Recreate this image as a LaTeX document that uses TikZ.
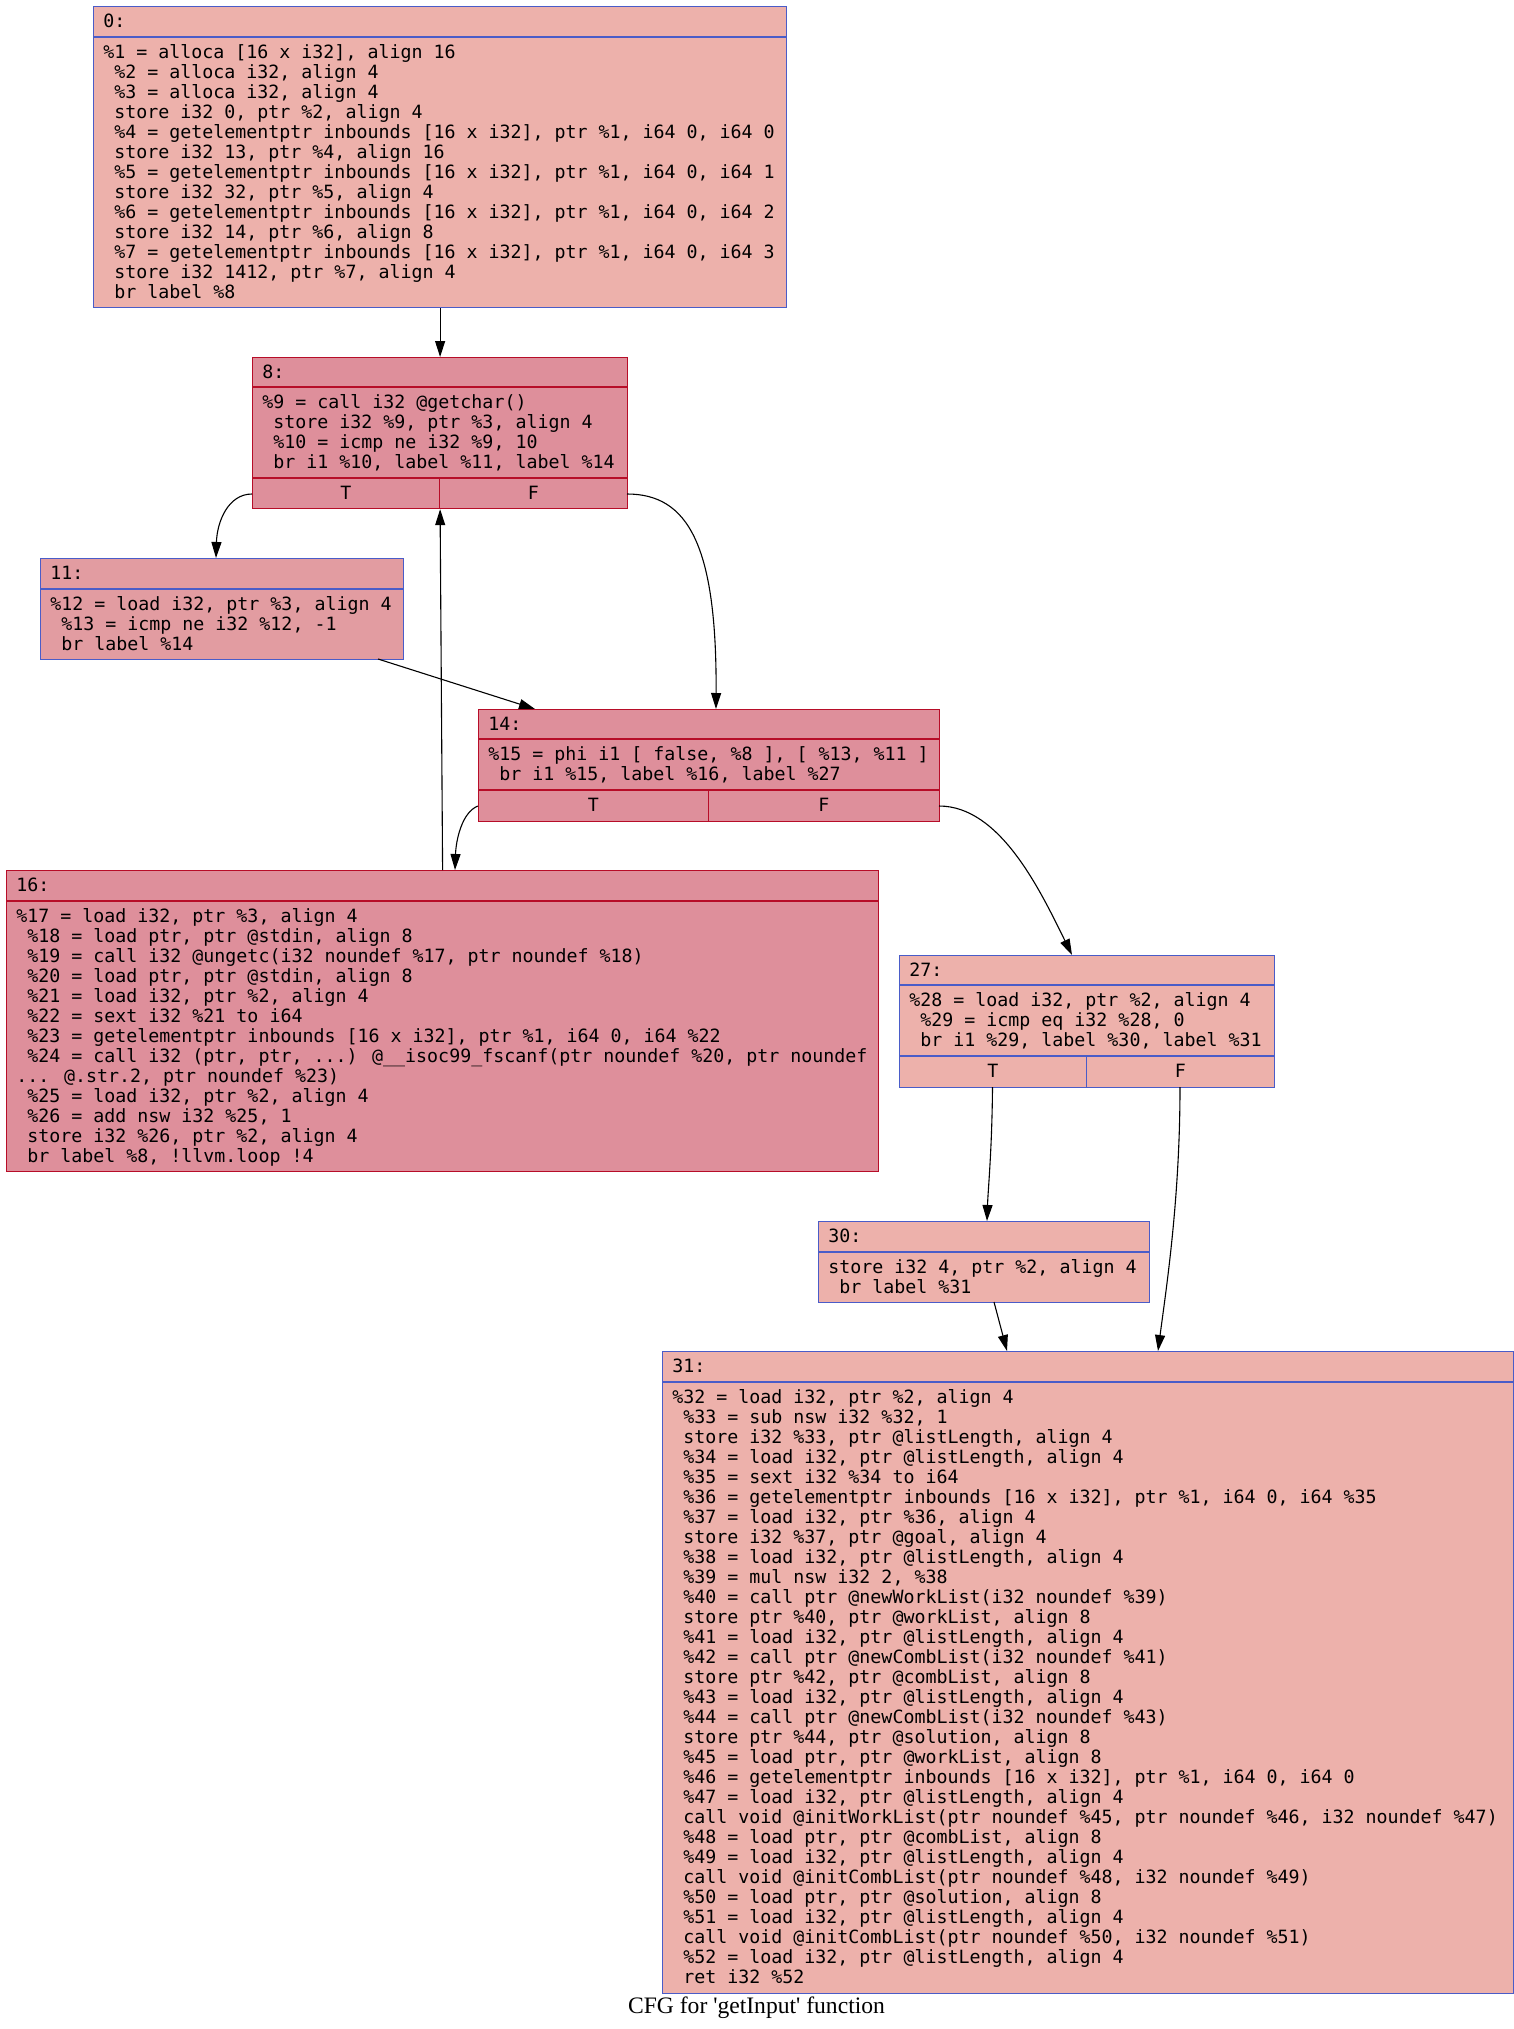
\documentclass[tikz,border=0pt]{standalone}
\usepackage{fontspec}
\usetikzlibrary{arrows.meta}

\newfontfamily\irfont[Ligatures=TeXOff]{DejaVu Sans Mono}
\newfontfamily\capfont[Ligatures=TeXOff]{Liberation Serif}
\newcommand\irtext{\irfont\fontsize{9.14pt}{10pt}\selectfont}
\newcommand\irindent{\hphantom{0}}
\newcommand\irstrut{\rule{0pt}{7.5pt}}

\definecolor{coldline}{HTML}{4A5CC8}
\definecolor{hotline}{HTML}{B70D28}
\definecolor{warmfill}{HTML}{EDB1AB}
\definecolor{hotfill}{HTML}{DE8F9B}
\definecolor{midfill}{HTML}{E29CA1}

\tikzset{
  box/.style={draw, line width=0.6pt, inner sep=0pt, anchor=north west},
  coldbox/.style={box, draw=coldline},
  hotbox/.style={box, draw=hotline},
  lbl/.style={font=\irtext, inner sep=0pt, anchor=base west},
  port/.style={font=\irtext, inner sep=0pt, anchor=base},
  body/.style={font=\irtext, inner sep=0pt, anchor=north west, align=left},
  sepline/.style={line width=0.6pt},
  edge/.style={line width=0.55pt, black, -{Triangle[length=8pt,width=5pt]}}
}

% name, style, x1, y1, x2, y2
\newcommand\irblock[6]{%
  \node[#2, minimum width={(#5-#3)*0.5pt}, minimum height={(#6-#4)*0.5pt}] (#1) at (#3,#4) {};}

\begin{document}
\begin{tikzpicture}[x=0.5pt,y=-0.5pt]
\useasboundingbox (0,0) rectangle (1514,2029);

% ---------- block 0 ----------
\irblock{b0}{coldbox, fill=warmfill}{93}{6}{786}{307}
\draw[sepline, coldline] (93,37) -- (786,37);
\node[lbl] (h0) at (103,27) {0:};
\node[body] (t0) at (103,43.5) {\irstrut\%1 = alloca [16 x i32], align 16\\
\irindent\%2 = alloca i32, align 4\\
\irindent\%3 = alloca i32, align 4\\
\irindent store i32 0, ptr \%2, align 4\\
\irindent\%4 = getelementptr inbounds [16 x i32], ptr \%1, i64 0, i64 0\\
\irindent store i32 13, ptr \%4, align 16\\
\irindent\%5 = getelementptr inbounds [16 x i32], ptr \%1, i64 0, i64 1\\
\irindent store i32 32, ptr \%5, align 4\\
\irindent\%6 = getelementptr inbounds [16 x i32], ptr \%1, i64 0, i64 2\\
\irindent store i32 14, ptr \%6, align 8\\
\irindent\%7 = getelementptr inbounds [16 x i32], ptr \%1, i64 0, i64 3\\
\irindent store i32 1412, ptr \%7, align 4\\
\irindent br label \%8};

% ---------- block 8 ----------
\irblock{b8}{hotbox, fill=hotfill}{252}{357}{627}{508}
\draw[sepline, hotline] (252,387) -- (627,387);
\draw[sepline, hotline] (252,478) -- (627,478);
\draw[sepline, hotline] (439.5,478) -- (439.5,508);
\node[lbl] (h8) at (262,378) {8:};
\node[body] (t8) at (262,393.5) {\irstrut\%9 = call i32 @getchar()\\
\irindent store i32 \%9, ptr \%3, align 4\\
\irindent\%10 = icmp ne i32 \%9, 10\\
\irindent br i1 \%10, label \%11, label \%14};
\node[port] (b8t) at (345.75,499) {T};
\node[port] (b8f) at (533.25,499) {F};

% ---------- block 11 ----------
\irblock{b11}{coldbox, fill=midfill}{40}{558}{403}{659}
\draw[sepline, coldline] (40,589) -- (403,589);
\node[lbl] (h11) at (50,579) {11:};
\node[body] (t11) at (50,595.5) {\irstrut\%12 = load i32, ptr \%3, align 4\\
\irindent\%13 = icmp ne i32 \%12, -1\\
\irindent br label \%14};

% ---------- block 14 ----------
\irblock{b14}{hotbox, fill=hotfill}{478}{709}{939}{821}
\draw[sepline, hotline] (478,739) -- (939,739);
\draw[sepline, hotline] (478,790) -- (939,790);
\draw[sepline, hotline] (708.5,790) -- (708.5,821);
\node[lbl] (h14) at (488,730) {14:};
\node[body] (t14) at (488,745.5) {\irstrut\%15 = phi i1 [ false, \%8 ], [ \%13, \%11 ]\\
\irindent br i1 \%15, label \%16, label \%27};
\node[port] (b14t) at (593.25,811) {T};
\node[port] (b14f) at (823.75,811) {F};

% ---------- block 16 ----------
\irblock{b16}{hotbox, fill=hotfill}{6}{870}{878}{1171}
\draw[sepline, hotline] (6,901) -- (878,901);
\node[lbl] (h16) at (16,891) {16:};
\node[body] (t16) at (16,907.5) {\irstrut\%17 = load i32, ptr \%3, align 4\\
\irindent\%18 = load ptr, ptr @stdin, align 8\\
\irindent\%19 = call i32 @ungetc(i32 noundef \%17, ptr noundef \%18)\\
\irindent\%20 = load ptr, ptr @stdin, align 8\\
\irindent\%21 = load i32, ptr \%2, align 4\\
\irindent\%22 = sext i32 \%21 to i64\\
\irindent\%23 = getelementptr inbounds [16 x i32], ptr \%1, i64 0, i64 \%22\\
\irindent\%24 = call i32 (ptr, ptr, ...) @\_\_isoc99\_fscanf(ptr noundef \%20, ptr noundef\\
... @.str.2, ptr noundef \%23)\\
\irindent\%25 = load i32, ptr \%2, align 4\\
\irindent\%26 = add nsw i32 \%25, 1\\
\irindent store i32 \%26, ptr \%2, align 4\\
\irindent br label \%8, !llvm.loop !4};

% ---------- block 27 ----------
\irblock{b27}{coldbox, fill=warmfill}{899}{955}{1274}{1087}
\draw[sepline, coldline] (899,985) -- (1274,985);
\draw[sepline, coldline] (899,1056) -- (1274,1056);
\draw[sepline, coldline] (1086.5,1056) -- (1086.5,1087);
\node[lbl] (h27) at (909,976) {27:};
\node[body] (t27) at (909,991.5) {\irstrut\%28 = load i32, ptr \%2, align 4\\
\irindent\%29 = icmp eq i32 \%28, 0\\
\irindent br i1 \%29, label \%30, label \%31};
\node[port] (b27t) at (992.75,1077) {T};
\node[port] (b27f) at (1180.25,1077) {F};

% ---------- block 30 ----------
\irblock{b30}{coldbox, fill=warmfill}{818}{1221}{1149}{1302}
\draw[sepline, coldline] (818,1252) -- (1149,1252);
\node[lbl] (h30) at (828,1242) {30:};
\node[body] (t30) at (828,1258.5) {\irstrut store i32 4, ptr \%2, align 4\\
\irindent br label \%31};

% ---------- block 31 ----------
\irblock{b31}{coldbox, fill=warmfill}{662}{1351}{1513}{1993}
\draw[sepline, coldline] (662,1382) -- (1513,1382);
\node[lbl] (h31) at (672,1372) {31:};
\node[body] (t31) at (672,1388.5) {\irstrut\%32 = load i32, ptr \%2, align 4\\
\irindent\%33 = sub nsw i32 \%32, 1\\
\irindent store i32 \%33, ptr @listLength, align 4\\
\irindent\%34 = load i32, ptr @listLength, align 4\\
\irindent\%35 = sext i32 \%34 to i64\\
\irindent\%36 = getelementptr inbounds [16 x i32], ptr \%1, i64 0, i64 \%35\\
\irindent\%37 = load i32, ptr \%36, align 4\\
\irindent store i32 \%37, ptr @goal, align 4\\
\irindent\%38 = load i32, ptr @listLength, align 4\\
\irindent\%39 = mul nsw i32 2, \%38\\
\irindent\%40 = call ptr @newWorkList(i32 noundef \%39)\\
\irindent store ptr \%40, ptr @workList, align 8\\
\irindent\%41 = load i32, ptr @listLength, align 4\\
\irindent\%42 = call ptr @newCombList(i32 noundef \%41)\\
\irindent store ptr \%42, ptr @combList, align 8\\
\irindent\%43 = load i32, ptr @listLength, align 4\\
\irindent\%44 = call ptr @newCombList(i32 noundef \%43)\\
\irindent store ptr \%44, ptr @solution, align 8\\
\irindent\%45 = load ptr, ptr @workList, align 8\\
\irindent\%46 = getelementptr inbounds [16 x i32], ptr \%1, i64 0, i64 0\\
\irindent\%47 = load i32, ptr @listLength, align 4\\
\irindent call void @initWorkList(ptr noundef \%45, ptr noundef \%46, i32 noundef \%47)\\
\irindent\%48 = load ptr, ptr @combList, align 8\\
\irindent\%49 = load i32, ptr @listLength, align 4\\
\irindent call void @initCombList(ptr noundef \%48, i32 noundef \%49)\\
\irindent\%50 = load ptr, ptr @solution, align 8\\
\irindent\%51 = load i32, ptr @listLength, align 4\\
\irindent call void @initCombList(ptr noundef \%50, i32 noundef \%51)\\
\irindent\%52 = load i32, ptr @listLength, align 4\\
\irindent ret i32 \%52};

% ---------- edge end points on block borders ----------
\coordinate (p8T) at (252,494);
\coordinate (p8F) at (627,494);
\coordinate (p14T) at (478,806);
\coordinate (p14F) at (939,806);
\coordinate (p27T) at (992.5,1087);
\coordinate (p27F) at (1180,1087);
\coordinate (b11out) at (378,659);
\coordinate (b30out) at (994,1302);
\coordinate (b11in) at (216,558);
\coordinate (b14inA) at (535,709);
\coordinate (b14inB) at (716,709);
\coordinate (b16in) at (455,870);
\coordinate (b27in) at (1072,955);
\coordinate (b30in) at (987,1221);
\coordinate (b31inA) at (1007,1351);
\coordinate (b31inB) at (1158,1351);

% ---------- edges ----------
\draw[edge] (b0.south) -- (b8.north);
\draw[edge] (p8T) .. controls (228,494) and (217,522) .. (b11in);
\draw[edge] (p8F) .. controls (688,494) and (717,545) .. (b14inB);
\draw[edge] (b11out) -- (b14inA);
\draw[edge] (p14T) .. controls (462,812) and (456,840) .. (b16in);
\draw[edge] (b16.north) -- (b8.south);
\draw[edge] (p14F) .. controls (1000,806) and (1040,890) .. (b27in);
\draw[edge] (p27T) .. controls (992,1150) and (988,1190) .. (b30in);
\draw[edge] (p27F) .. controls (1180,1200) and (1166,1290) .. (b31inB);
\draw[edge] (b30out) -- (b31inA);

% ---------- caption ----------
\node[font=\capfont\fontsize{11.8pt}{14pt}\selectfont, inner sep=0pt, anchor=base] (cap) at (756.5,2013) {CFG for 'getInput' function};
\end{tikzpicture}
\end{document}
